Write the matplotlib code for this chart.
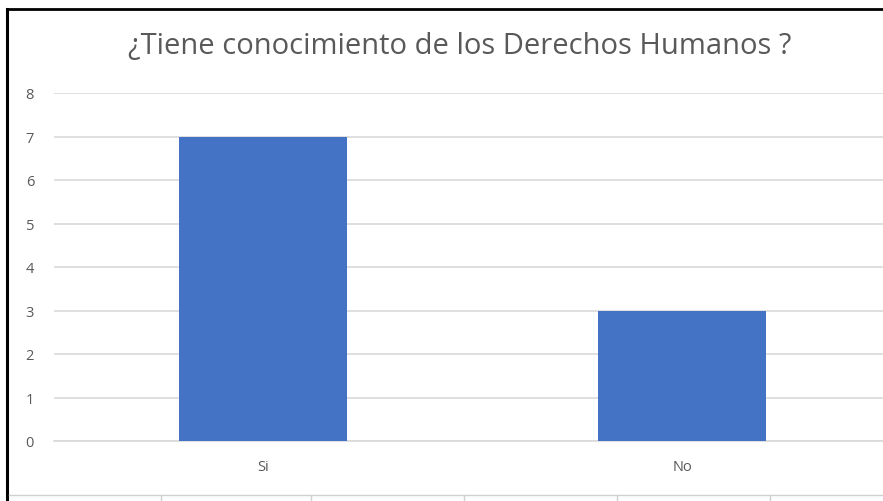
import matplotlib
matplotlib.use("Agg")
import matplotlib.pyplot as plt
from matplotlib.lines import Line2D

categories = ["Si", "No"]
values = [7, 3]
yticks = [0, 1, 2, 3, 4, 5, 6, 7, 8]
title = "¿Tiene conocimiento de los Derechos Humanos ?"

plt.rcParams['font.family'] = ['Open Sans', 'DejaVu Sans']

W, H = 883, 502
fig = plt.figure(figsize=(W/100, H/100), dpi=100)
fig.patch.set_facecolor("white")

def fx(px): return px / W
def fy(py): return 1 - py / H

# axes: category 0 at x=263, category 1 at x=682 -> spacing 419
left = 263 - 419/2
right = 682 + 419/2
ax = fig.add_axes([fx(left), fy(442), (right-left)/W, (442-94)/H])
ax.set_xlim(-0.5, 1.5)
ax.set_ylim(0, 8)
ax.bar(range(len(categories)), values, width=0.4, color="#4472C4", zorder=3)
ax.set_yticks(yticks)
ax.set_xticks(range(len(categories)))
ax.set_xticklabels(categories)
ax.grid(axis="y", color="#D9D9D9", linewidth=1.2, zorder=0)
for s in ax.spines.values():
    s.set_visible(False)
ax.spines["bottom"].set_visible(True)
ax.spines["bottom"].set_color("#D9D9D9")
ax.spines["bottom"].set_linewidth(1.2)
ax.tick_params(axis="both", length=0, colors="#595959", labelsize=10.5)
ax.tick_params(axis="y", pad=14)
ax.tick_params(axis="x", pad=13)

fig.text(fx(460), fy(46), title, ha="center", va="center",
         fontsize=21, color="#595959")

# frame of the document screenshot
fig.add_artist(Line2D([fx(7), fx(883)], [fy(10), fy(10)], color="black", lw=2))
fig.add_artist(Line2D([fx(7), fx(7)], [fy(10), fy(502)], color="black", lw=2.2))
fig.add_artist(Line2D([fx(9), fx(883)], [fy(496), fy(496)], color="#D0D0D0", lw=1))
for xv in [161, 311, 464, 617, 770]:
    fig.add_artist(Line2D([fx(xv), fx(xv)], [fy(496), fy(502)], color="#D0D0D0", lw=1))

fig.savefig("out.png", dpi=100)
